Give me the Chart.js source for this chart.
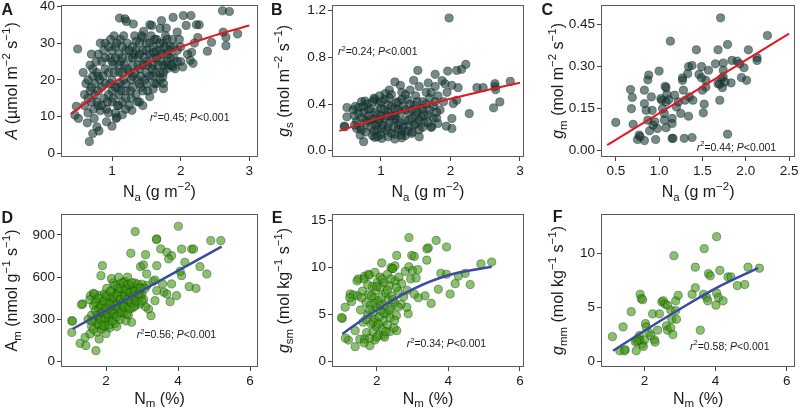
<!DOCTYPE html>
<html><head><meta charset="utf-8">
<script src="https://cdn.jsdelivr.net/npm/chart.js@4"></script>
<style>
html,body{margin:0;padding:0;background:#fff;}
#wrap{position:relative;width:800px;height:408px;overflow:hidden;}
canvas{position:absolute;display:block;}
</style></head><body><div id="wrap"></div>
<script>
// ---------------- DATA ----------------
const xTicksA = ['1','2','3'];          const yTicksA = ['0','10','20','30','40'];
const xTicksB = ['1','2','3'];          const yTicksB = ['0.0','0.4','0.8','1.2'];
const xTicksC = ['0.5','1.0','1.5','2.0','2.5']; const yTicksC = ['0.00','0.15','0.30','0.45'];
const xTicksD = ['2','4','6'];          const yTicksD = ['0','300','600','900'];
const xTicksE = ['2','4','6'];          const yTicksE = ['0','5','10','15'];
const xTicksF = ['2','4','6'];          const yTicksF = ['0','5','10'];

const notes = ['0.45','0.24','0.44','0.56','0.34','0.58'];

const fitA_x = [0.4,1.0,1.5,2.0,2.5,3.0];   const fitA_y = [10.7,19.0,24.4,28.9,32.1,34.8];
const fitB_x = [0.4,1.0,1.5,2.0,2.5,3.0];   const fitB_y = [0.17,0.285,0.37,0.445,0.515,0.583];
const fitC_x = [0.4,2.5];                   const fitC_y = [0.02,0.418];
const fitD_x = [1.07,5.21];                 const fitD_y = [232,817];
const fitE_x = [1.04,2,3,4,5.21];           const fitE_y = [2.94,5.5,7.7,9.2,10.1];
const fitF_x = [1.12,2,3,4,5.19];           const fitF_y = [1.0,2.85,4.85,6.75,8.62];

const pointsA = [[0.67,3.2],[0.72,5.4],[0.81,6.1],[1.0,7.4],[1.06,9.5],[0.5,28.4],[1.11,36.8],[1.19,36.6],[1.21,35.9],[1.31,35.2],[1.46,33.2],[1.58,34.8],[1.72,36.1],[1.79,34.1],[1.89,37.0],[2.04,37.5],[2.15,37.5],[2.08,34.8],[2.23,35.0],[2.27,35.0],[2.61,38.8],[2.71,38.6],[2.45,30.2],[2.39,27.8],[2.62,33.0],[2.66,31.6],[2.66,29.3],[2.83,32.5],[2.14,25.3],[2.16,27.5],[2.03,23.5],[1.89,23.5],[1.8,23.0],[1.74,20.8],[1.75,17.6],[1.65,19.0],[1.55,15.4],[1.29,11.7],[1.07,9.8],[0.83,11.6],[0.48,12.8],[0.51,9.5],[0.46,10.4],[0.64,8.3],[0.74,9.5],[0.78,7.2],[0.92,8.6],
[0.6,13],[0.6,16],[0.62,19],[0.58,22],[0.65,11],[0.7,14],[0.7,18],[0.72,21],[0.68,24],[0.73,12],[0.75,16],[0.8,13],[0.8,17],[0.82,20],[0.78,22],[0.85,25],[0.8,27],[0.83,30],[0.88,15],[0.9,19],[0.92,12],[0.95,22],[0.97,26],[1.0,14],[1.0,17],[1.0,20],[1.02,24],[1.0,28],[0.98,31],[1.05,11],[1.05,29],[1.1,13],[1.1,16],[1.12,19],[1.1,22],[1.13,25],[1.1,27],[1.12,31],[1.15,14],[1.17,20],[1.18,24],[1.2,17],[1.2,28],[1.22,30],[1.2,12],[1.28,15],[1.3,18],[1.3,21],[1.3,24],[1.32,27],[1.3,29],[1.33,32],[1.35,16],[1.37,20],[1.38,26],[1.4,23],[1.4,30],[1.42,18],[1.45,28],[1.48,20],[1.5,22],[1.5,25],[1.5,30],[1.52,17],[1.55,27],[1.57,32],[1.6,21],[1.6,24],[1.6,29],[1.62,19],[1.65,26],[1.65,31],[1.7,22],[1.7,28],[1.72,25],[1.75,30],[1.75,19],[1.78,32],[1.8,27],[1.82,24],[1.85,29],[1.88,31],[1.9,26],[1.92,23],[1.95,28],[2.0,29],[2.0,25],[2.1,27],[2.2,30],[2.18,24.5],[2.25,31.5],[1.95,33],[1.7,34],[1.55,35],
[0.9,23],[0.95,16],[1.08,18],[1.25,22],[1.45,24],[1.25,26],[1.15,29],[0.88,28],[0.7,27],[0.65,20],[1.4,14],[1.6,27.5],[1.85,26],[1.75,24],[1.35,30.5],[1.45,31.5],[1.03,32],[0.9,30],
[0.75,19],[0.78,14],[0.85,18],[0.87,21],[0.9,26],[0.93,14],[0.95,29],[0.97,19],[1.02,15],[1.03,22],[1.05,26],[1.07,30],[1.08,13],[1.1,24],[1.13,17],[1.15,22],[1.15,26],[1.17,32],[1.2,15],[1.2,19],[1.22,23],[1.25,28],[1.25,13],[1.27,17],[1.28,20],[1.3,26],[1.33,22],[1.35,28],[1.37,14],[1.38,24],[1.4,19],[1.4,27],[1.42,21],[1.43,32],[1.45,17],[1.47,26],[1.5,19],[1.5,28],[1.52,24],[1.55,21],[1.55,30],[1.58,23],[1.6,26],[1.62,31],[1.63,22],[1.65,28],[1.67,24],[1.7,30],[1.7,20],[1.72,27],[1.75,22],[1.77,29],[1.8,25],[1.8,31],[1.83,28],[1.87,24],[1.9,29],[1.95,25],[1.98,31],[0.65,15],[0.68,17],[0.72,23],[0.77,25],[0.8,21],[0.85,13],[0.95,11],[1.0,25],[1.05,18],[1.15,10.5],[1.45,13],[1.6,17.5]];

const pointsB = [[1.98,1.137],[2.22,0.739],[2.09,0.688],[2.16,0.697],[1.96,0.682],[1.53,0.688],[1.78,0.654],[1.2,0.589],[1.47,0.603],[1.68,0.58],[1.92,0.574],[2.02,0.56],[2.11,0.54],[2.38,0.54],[2.47,0.54],[2.64,0.574],[2.64,0.55],[2.86,0.594],[2.65,0.523],[2.62,0.367],[2.71,0.418],[2.27,0.318],[2.09,0.432],[2.04,0.404],[2.02,0.276],[2.02,0.19],[1.94,0.21],[1.82,0.233],[1.73,0.205],[1.55,0.119],[1.44,0.148],[1.29,0.134],[1.01,0.105],[0.91,0.114],[0.75,0.077],[0.7,0.134],[0.65,0.19],[0.48,0.205],[0.47,0.21],[0.51,0.29],[0.51,0.37],[0.77,0.426],[0.91,0.438],[1.06,0.489],
[0.6,0.35],[0.62,0.3],[0.65,0.25],[0.68,0.37],[0.7,0.2],[0.72,0.28],[0.75,0.33],[0.78,0.16],[0.8,0.24],[0.8,0.4],[0.82,0.3],[0.85,0.2],[0.85,0.36],[0.88,0.13],[0.9,0.27],[0.9,0.45],[0.92,0.33],[0.95,0.18],[0.95,0.24],[0.97,0.4],[1.0,0.14],[1.0,0.3],[1.0,0.36],[1.02,0.22],[1.05,0.44],[1.05,0.27],[1.08,0.17],[1.1,0.33],[1.1,0.12],[1.1,0.39],[1.12,0.24],[1.15,0.3],[1.15,0.48],[1.18,0.2],[1.2,0.36],[1.2,0.14],[1.22,0.27],[1.25,0.42],[1.25,0.22],[1.28,0.32],[1.3,0.17],[1.3,0.5],[1.32,0.38],[1.35,0.26],[1.35,0.13],[1.38,0.44],[1.4,0.21],[1.4,0.33],[1.42,0.52],[1.45,0.28],[1.45,0.16],[1.48,0.39],[1.5,0.23],[1.5,0.47],[1.52,0.33],[1.55,0.55],[1.55,0.18],[1.58,0.29],[1.6,0.42],[1.6,0.36],[1.62,0.24],[1.65,0.5],[1.68,0.31],[1.7,0.45],[1.72,0.2],[1.75,0.38],[1.78,0.55],[1.8,0.28],[1.82,0.47],[1.85,0.35],[1.88,0.6],[1.9,0.42],[1.95,0.5],[0.98,0.47],[1.28,0.56],[1.12,0.52],[0.72,0.42],[0.63,0.38],
[0.62,0.22],[0.68,0.32],[0.72,0.18],[0.75,0.38],[0.78,0.26],[0.82,0.35],[0.85,0.27],[0.88,0.42],[0.9,0.17],[0.92,0.22],[0.95,0.31],[0.98,0.26],[1.0,0.42],[1.02,0.19],[1.05,0.35],[1.08,0.3],[1.1,0.2],[1.12,0.45],[1.15,0.15],[1.15,0.38],[1.18,0.27],[1.2,0.3],[1.22,0.41],[1.25,0.18],[1.25,0.35],[1.28,0.24],[1.3,0.44],[1.32,0.2],[1.35,0.35],[1.35,0.48],[1.38,0.17],[1.4,0.26],[1.42,0.4],[1.45,0.35],[1.48,0.22],[1.5,0.3],[1.52,0.42],[1.55,0.26],[1.58,0.36],[1.6,0.2],[1.62,0.3],[1.65,0.4],[1.68,0.24],[1.7,0.35],[1.72,0.5],[1.75,0.28],[1.78,0.42],[1.8,0.33],[1.3,0.11],[1.2,0.1],[0.95,0.12]];

const pointsC = [[0.5,0.101],[0.67,0.218],[0.69,0.19],[0.68,0.15],[0.7,0.094],[0.75,0.04],[0.77,0.056],[0.78,0.05],[0.83,0.036],[0.83,0.216],[0.87,0.253],[0.88,0.27],[0.91,0.192],[0.92,0.144],[0.85,0.144],[0.87,0.109],[0.93,0.091],[0.89,0.071],[0.96,0.04],[0.98,0.079],[1.0,0.284],[1.03,0.18],[1.04,0.15],[1.06,0.133],[1.07,0.23],[1.08,0.225],[1.08,0.174],[1.06,0.109],[1.08,0.082],[1.11,0.182],[1.13,0.391],[1.15,0.115],[1.15,0.097],[1.15,0.044],[1.16,0.044],[1.18,0.198],[1.2,0.156],[1.22,0.174],[1.25,0.133],[1.27,0.251],[1.27,0.26],[1.28,0.216],[1.29,0.044],[1.3,0.18],[1.33,0.275],[1.34,0.3],[1.35,0.192],[1.34,0.123],[1.38,0.047],[1.39,0.18],[1.43,0.36],[1.46,0.272],[1.49,0.3],[1.49,0.26],[1.5,0.216],[1.51,0.135],[1.52,0.166],[1.54,0.251],[1.54,0.227],[1.57,0.287],[1.65,0.31],[1.68,0.36],[1.68,0.239],[1.7,0.237],[1.71,0.474],[1.72,0.257],[1.74,0.287],[1.73,0.225],[1.74,0.263],[1.79,0.379],[1.79,0.059],[1.83,0.242],[1.84,0.322],[1.9,0.32],[1.93,0.31],[1.98,0.296],[1.95,0.261],[2.01,0.251],[2.03,0.36],[2.13,0.332],[2.13,0.322],[2.25,0.411],[1.74,0.313],[1.76,0.245],[1.38,0.304],[1.09,0.201],[1.02,0.186],[0.95,0.103],[0.83,0.168],[1.7,0.18]];

const pointsD = [[4.01,962],[2.81,924],[3.41,872],[3.4,867],[3.52,801],[2.69,770],[3.1,760],[3.82,753],[3.69,777],[3.74,730],[2.96,675],[3.04,687],[1.9,682],[4.91,860],[5.19,860],[4.38,800],[4.43,800],[4.1,800],[4.19,706],[4.61,675],[4.8,623],[4.5,521],[4.31,533],[3.96,469],[3.78,426],[3.61,493],[3.41,682],[4.1,611],[4.06,642],[3.13,623],[1.86,611],[1.05,291],[1.07,287],[1.05,208],[1.28,130],[1.44,114],[1.72,78],[1.81,161],[1.42,173],[1.56,197],[3.25,327],[3.18,374],[2.71,280],[3.36,433],[3.41,504],[3.57,552],[3.13,540],[3.31,571],[3.36,580],[3.69,481],[3.82,552],[1.35,410],[1.32,405],[1.57,469],[1.65,486],
[1.6,250],[1.6,330],[1.65,400],[1.7,290],[1.7,360],[1.72,440],[1.75,210],[1.78,320],[1.8,380],[1.8,260],[1.82,470],[1.85,340],[1.88,230],[1.9,410],[1.9,300],[1.95,360],[1.95,480],[2.0,270],[2.0,330],[2.0,420],[2.02,520],[2.05,380],[2.08,300],[2.1,450],[2.1,240],[2.12,350],[2.15,500],[2.18,400],[2.2,310],[2.2,560],[2.22,440],[2.25,360],[2.25,270],[2.28,480],[2.3,410],[2.32,530],[2.35,340],[2.38,450],[2.4,390],[2.4,300],[2.42,560],[2.45,480],[2.48,420],[2.5,350],[2.5,520],[2.52,570],[2.55,450],[2.58,390],[2.6,500],[2.62,330],[2.65,430],[2.68,540],[2.7,470],[2.72,380],[2.75,510],[2.78,440],[2.8,560],[2.82,400],[2.85,490],[2.9,450],[2.92,530],[2.95,410],[3.0,480],[3.0,550],[3.05,440],[3.08,520],[3.1,390],[2.3,250],[2.55,290],[1.68,480],[1.5,300],[1.55,440],[2.0,200],[2.15,590],[2.6,600],[2.35,600],
[1.85,390],[2.05,460],[2.25,420],[2.45,370],[2.65,480],[2.85,520],[1.95,250],[2.15,330],[2.35,500],[2.55,540],[2.75,420],[2.95,470],
[1.6,290],[1.65,230],[1.7,420],[1.75,330],[1.78,270],[1.8,450],[1.85,300],[1.88,400],[1.9,350],[1.92,260],[1.95,430],[1.98,310],[2.0,380],[2.02,470],[2.05,340],[2.08,260],[2.1,410],[2.12,500],[2.15,370],[2.18,290],[2.2,460],[2.22,340],[2.25,540],[2.28,400],[2.3,320],[2.32,470],[2.35,380],[2.38,520],[2.4,440],[2.42,350],[2.45,410],[2.48,560],[2.5,390],[2.52,470],[2.55,510],[2.58,340],[2.6,440],[2.62,550],[2.65,380],[2.68,490],[2.7,420],[2.72,560],[2.75,460],[2.78,390],[2.8,500],[2.85,430],[2.88,550],[2.9,480],[2.95,520],[3.0,430]];

const pointsE = [[2.9,13.2],[3.66,12.9],[3.44,12.1],[3.95,12.2],[3.4,12.0],[2.56,11.3],[2.98,11.3],[3.05,11.2],[2.14,10.5],[2.4,10.0],[2.44,9.9],[2.51,10.2],[3.4,10.8],[3.79,9.4],[3.95,9.3],[4.47,9.4],[4.28,9.1],[4.91,10.4],[5.21,10.6],[4.61,8.2],[4.19,8.3],[4.05,7.2],[3.72,7.7],[3.35,7.0],[3.52,6.2],[3.16,6.8],[2.88,5.1],[2.84,5.8],[2.68,6.1],[2.56,3.3],[2.37,3.2],[2.19,2.8],[1.95,2.3],[1.81,1.7],[1.66,2.4],[1.53,2.4],[1.4,1.6],[1.21,2.3],[1.13,2.5],[1.04,4.6],[1.02,4.7],[1.26,7.2],[1.3,6.4],[1.47,7.0],[1.49,8.8],[1.66,9.1],[1.77,9.3],[1.4,3.3],[1.12,5.8],
[1.55,5.5],[1.6,7.5],[1.62,4.2],[1.65,8.8],[1.7,6.3],[1.72,3.1],[1.75,5.0],[1.78,7.2],[1.8,2.5],[1.8,9.2],[1.82,6.0],[1.85,4.0],[1.88,8.0],[1.9,5.2],[1.9,3.2],[1.92,6.8],[1.95,9.5],[1.95,4.5],[1.98,7.6],[2.0,5.8],[2.0,3.7],[2.02,8.5],[2.05,6.5],[2.05,2.8],[2.08,4.8],[2.1,7.9],[2.1,9.0],[2.12,5.4],[2.15,3.5],[2.15,6.9],[2.18,4.3],[2.2,8.4],[2.2,6.0],[2.22,2.6],[2.25,7.3],[2.28,5.1],[2.3,9.3],[2.3,3.9],[2.32,6.6],[2.35,8.1],[2.38,4.7],[2.4,5.7],[2.42,7.0],[2.45,9.9],[2.48,3.6],[2.5,6.3],[2.52,8.6],[2.55,4.9],[2.6,7.5],[2.62,9.0],[2.7,8.3],[2.75,6.9],[2.8,9.6],[2.85,7.6],[2.9,10.1],[2.95,8.8],[3.0,9.7],[3.1,8.9],[3.15,9.8],[3.05,7.2],[1.65,2.0],[1.58,6.8],[1.45,8.6],[1.35,7.1],[1.25,6.8],
[1.7,4.5],[1.75,8.2],[1.8,5.5],[1.85,7.0],[1.9,4.2],[1.95,6.2],[2.0,8.0],[2.05,4.0],[2.1,6.0],[2.15,8.8],[2.2,5.2],[2.25,3.2],[2.3,7.6],[2.35,5.5],[2.4,8.8],[2.45,6.6],[2.5,4.4],[2.55,7.9],[2.6,5.8],[2.0,2.6]];

const pointsF = [[1.1,2.3],[1.31,1.0],[1.4,3.2],[1.46,1.1],[1.63,4.6],[1.77,1.0],[1.75,1.8],[1.82,2.1],[1.86,2.4],[1.88,6.2],[1.91,5.8],[1.95,5.7],[1.94,1.6],[1.97,1.4],[2.0,2.0],[2.03,3.5],[2.12,2.7],[2.18,2.4],[2.23,4.4],[2.28,2.0],[2.3,1.8],[2.37,2.9],[2.42,4.4],[2.49,5.5],[2.53,5.6],[2.58,5.3],[2.62,3.3],[2.65,2.9],[2.74,3.1],[2.77,3.9],[2.8,2.5],[2.83,9.75],[2.74,4.75],[2.88,4.7],[2.9,3.9],[2.88,5.6],[2.95,6.1],[2.65,5.2],[3.34,6.2],[3.43,6.8],[3.43,8.7],[3.57,2.9],[3.68,10.4],[3.66,6.2],[3.75,5.9],[3.78,5.6],[3.8,8.1],[3.85,7.9],[4.03,11.5],[4.03,6.3],[4.01,5.2],[4.08,5.9],[4.12,8.4],[4.21,5.6],[4.35,7.8],[4.43,7.8],[4.61,7.0],[4.82,7.1],[4.91,8.7],[5.23,8.6],[2.05,3.2],[1.86,2.0],[1.79,1.9],[1.44,1.0]];

// ---------------- STYLE / LAYOUT ----------------
const FAM = '"Liberation Sans", Arial, Helvetica, sans-serif';
const TXT = '#1a1a1a';
const TEAL = {fill:'rgba(25,58,55,0.6)', edge:'rgba(15,35,33,0.75)'};
const GREEN = {fill:'rgba(62,152,14,0.6)', edge:'rgba(25,60,15,0.75)'};
const RED = '#e3181f', BLUE = '#3a4aa3';

const SUP = (t)=>[t,'^'], SUB=(t)=>[t,'_'];
const NA = [['N',''],SUB('a'),[' (g m',''],SUP('\u22122'),[')','']];
const NM = [['N',''],SUB('m'),[' (%)','']];

const panels = [
 {id:'A', left:0,  top:0,   w:265, h:204, area:[61,258,4,157], xr:[0.257,3.127], yr:[-0.99,40.45],
  xt:xTicksA, yt:yTicksA, pts:pointsA, fx:fitA_x, fy:fitA_y, col:TEAL, line:RED, lw:2,
  letter:[1.5,15], ytitle:[[ 'A','i'],[' (\u00b5mol m',''],SUP('\u22122'),[' s',''],SUP('\u22121'),[')','']], ytx:16.5,
  xtitle:NA, xty:197, note:[150,121], r:notes[0]},
 {id:'B', left:265,top:0,   w:265, h:204, area:[67,259,4,157], xr:[0.295,3.058], yr:[-0.054,1.251],
  xt:xTicksB, yt:yTicksB, pts:pointsB, fx:fitB_x, fy:fitB_y, col:TEAL, line:RED, lw:2,
  letter:[6,15], ytitle:[['g','i'],SUB('s'),[' (mol m',''],SUP('\u22122'),[' s',''],SUP('\u22121'),[')','']], ytx:24,
  xtitle:NA, xty:197, note:[73,55], r:notes[1]},
 {id:'C', left:530,top:0,   w:270, h:204, area:[71,268,4,157], xr:[0.329,2.572], yr:[-0.0225,0.521],
  xt:xTicksC, yt:yTicksC, pts:pointsC, fx:fitC_x, fy:fitC_y, col:TEAL, line:RED, lw:2,
  letter:[11.5,15], ytitle:[['g','i'],SUB('m'),[' (mol m',''],SUP('\u22122'),[' s',''],SUP('\u22121'),[')','']], ytx:33,
  xtitle:NA, xty:197, note:[166.7,150.5], r:notes[2]},
 {id:'D', left:0,  top:204, w:265, h:204, area:[61,258,10,163], xr:[0.75,6.222], yr:[-37.9,1049],
  xt:xTicksD, yt:yTicksD, pts:pointsD, fx:fitD_x, fy:fitD_y, col:GREEN, line:BLUE, lw:2.5,
  letter:[1.5,19.3], ytitle:[['A',''],SUB('m'),[' (nmol g',''],SUP('\u22121'),[' s',''],SUP('\u22121'),[')','']], ytx:17,
  xtitle:NM, xty:199.5, note:[136.7,134], r:notes[3]},
 {id:'E', left:265,top:204, w:265, h:204, area:[67,259,10,163], xr:[0.753,6.112], yr:[-0.567,15.71],
  xt:xTicksE, yt:yTicksE, pts:pointsE, fx:fitE_x, fy:fitE_y, col:GREEN, line:BLUE, lw:2.5,
  letter:[6.7,19.3], ytitle:[['g','i'],SUB('sm'),[' (mol kg',''],SUP('\u22121'),[' s',''],SUP('\u22121'),[')','']], ytx:24,
  xtitle:NM, xty:199.5, note:[141.7,143], r:notes[4]},
 {id:'F', left:530,top:204, w:270, h:204, area:[71,268,10,163], xr:[0.78,6.24], yr:[-0.49,13.59],
  xt:xTicksF, yt:yTicksF, pts:pointsF, fx:fitF_x, fy:fitF_y, col:GREEN, line:BLUE, lw:2.5,
  letter:[22.7,18.3], ytitle:[['g','i'],SUB('mm'),[' (mol kg',''],SUP('\u22121'),[' s',''],SUP('\u22121'),[')','']], ytx:33,
  xtitle:NM, xty:199.5, note:[160,145.5], r:notes[5]}
];

function drawRich(ctx, segs, x, y, size, align, rot){
  ctx.save(); ctx.translate(x,y); if(rot) ctx.rotate(rot);
  const parts = segs.map(([t,st])=>{
    const small = st.includes('^')||st.includes('_');
    const sz = small ? size*0.72 : size;
    const font = (st.includes('i')?'italic ':'') + (st.includes('b')?'bold ':'') + sz + 'px ' + FAM;
    ctx.font = font;
    return {t, font, w: ctx.measureText(t).width, dy: st.includes('^') ? -size*0.42 : (st.includes('_') ? size*0.24 : 0)};
  });
  const total = parts.reduce((a,p)=>a+p.w,0);
  let cx = align==='center' ? -total/2 : 0;
  ctx.textAlign='left'; ctx.textBaseline='alphabetic'; ctx.fillStyle=TXT;
  for(const p of parts){ ctx.font=p.font; ctx.fillText(p.t,cx,p.dy); cx+=p.w; }
  ctx.restore();
}

const deco = {
  id:'deco',
  beforeDatasetsDraw(chart){
    const a = chart.chartArea, ctx = chart.ctx;
    ctx.save(); ctx.strokeStyle='#5a5a5a'; ctx.lineWidth=1;
    ctx.strokeRect(Math.round(a.left)+0.5, Math.round(a.top)+0.5, Math.round(a.right-a.left)-1, Math.round(a.bottom-a.top)-1);
    ctx.restore();
  },
  afterDraw(chart){
    const p = chart.options.plugins.deco.p, ctx = chart.ctx, a = chart.chartArea;
    drawRich(ctx, [[p.id,'b']], p.letter[0], p.letter[1], 16, 'left', 0);
    drawRich(ctx, p.ytitle, p.ytx, (a.top+a.bottom)/2, 16, 'center', -Math.PI/2);
    drawRich(ctx, p.xtitle, (a.left+a.right)/2, p.xty, 16, 'center', 0);
    drawRich(ctx, [['r','i'],SUP('2'),['='+p.r+'; ',''],['P','i'],['<0.001','']], p.note[0], p.note[1], 10.5, 'left', 0);
  }
};

const wrap = document.getElementById('wrap');
panels.forEach(p=>{
  const cv = document.createElement('canvas');
  cv.width = p.w; cv.height = p.h;
  cv.style.left = p.left+'px'; cv.style.top = p.top+'px';
  cv.style.width = p.w+'px'; cv.style.height = p.h+'px';
  wrap.appendChild(cv);
  const [L,R,T,B] = p.area;
  const xv = p.xt.map(Number), yv = p.yt.map(Number);
  const tickFont = {family:FAM, size:13.5};
  new Chart(cv, {
    type:'scatter',
    data:{datasets:[
      {data: p.fx.map((x,i)=>({x, y:p.fy[i]})), showLine:true, pointRadius:0, borderColor:p.line, borderWidth:p.lw,
       tension:0.4, cubicInterpolationMode:'monotone', fill:false},
      {data: p.pts.map(([x,y])=>({x,y})), pointRadius:4.1, pointBorderWidth:0.6,
       backgroundColor:p.col.fill, borderColor:p.col.edge, pointHoverRadius:4.1}
    ]},
    options:{
      responsive:false, animation:false, devicePixelRatio:1,
      events:[],
      layout:{padding:{left:0, right:p.w-R, top:T, bottom:0}},
      plugins:{legend:{display:false}, tooltip:{enabled:false}, title:{display:false}, deco:{p}},
      scales:{
        x:{type:'linear', min:p.xr[0], max:p.xr[1],
           afterFit(s){ s.height = p.h - B; s.paddingLeft=0; s.paddingRight=0; },
           afterBuildTicks(s){ s.ticks = xv.map(v=>({value:v})); },
           ticks:{callback:(v,i)=>p.xt[i], font:tickFont, color:TXT, padding:2, maxRotation:0, autoSkip:false},
           grid:{display:true, drawOnChartArea:false, drawTicks:true, tickLength:4, color:'#444', lineWidth:1},
           border:{display:false}},
        y:{type:'linear', min:p.yr[0], max:p.yr[1],
           afterFit(s){ s.width = L; s.paddingTop=0; s.paddingBottom=0; },
           afterBuildTicks(s){ s.ticks = yv.map(v=>({value:v})); },
           ticks:{callback:(v,i)=>p.yt[i], font:tickFont, color:TXT, padding:2, autoSkip:false},
           grid:{display:true, drawOnChartArea:false, drawTicks:true, tickLength:4, color:'#444', lineWidth:1},
           border:{display:false}}
      }
    },
    plugins:[deco]
  });
});
</script></body></html>
